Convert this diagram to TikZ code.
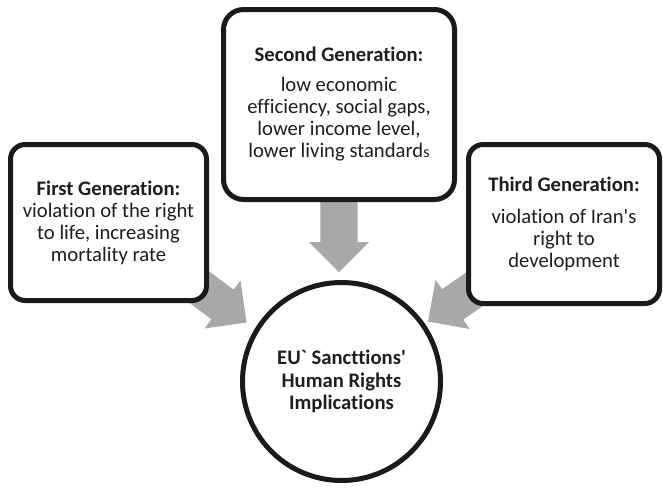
\documentclass[tikz,border=0pt]{standalone}
\usepackage{fontspec}
\setmainfont{Carlito}
\newfontfamily\genfont{Carlito}[Ligatures=NoCommon]
\usetikzlibrary{calc,backgrounds}

\definecolor{boxline}{RGB}{26,26,26}
\definecolor{arrowgray}{RGB}{168,168,168}
\definecolor{txtgray}{RGB}{30,30,30}

\tikzset{every picture/.style={line width=0.75pt}}
\tikzset{
  genbox/.style={draw=boxline, fill=white, line width=3.75pt, rounded corners=11pt, align=center, text=txtgray, inner sep=0pt, font=\genfont\fontsize{15.5}{16.5}\selectfont},
  hubcircle/.style={circle, draw=boxline, fill=white, line width=3.75pt, minimum size=148.5pt, align=center, text=txtgray, inner sep=0pt, font=\genfont\bfseries\fontsize{15.5}{17}\selectfont},
}

% fat grey arrow from #1 (tail) to #2 (tip)
\newcommand{\blockarrow}[2]{%
  \coordinate (bh) at ($(#2)!22.5pt!(#1)$);
  \fill[arrowgray] ($(#1)!13.9pt!90:(#2)$) -- ($(bh)!13.9pt!90:(#2)$) -- ($(bh)!22.5pt!90:(#2)$) -- (#2) -- ($(bh)!22.5pt!-90:(#2)$) -- ($(bh)!13.9pt!-90:(#2)$) -- ($(#1)!13.9pt!-90:(#2)$) -- cycle ;}

\begin{document}
\begin{tikzpicture}[x=0.75pt,y=0.75pt,yscale=-1,xscale=1]
\useasboundingbox (0,0) rectangle (663,490);

%Shape: Rounded Rect [id:second]
\node [genbox, rounded corners=15pt, minimum width=173.25pt, minimum height=142.5pt] (second) at (339,104.5) {\textbf{Second Generation:}\\[6pt]
low economic\\
efficiency, social gaps,\\
lower income level,\\
lower living standard{\fontsize{12}{16.5}\selectfont s}};
%Shape: Rounded Rect [id:first]
\node [genbox, minimum width=147pt, minimum height=117pt] (first) at (108.5,222.5) {\textbf{First Generation:}\\
violation of the right\\
to life, increasing\\
mortality rate};
%Shape: Rounded Rect [id:third]
\node [genbox, minimum width=143.25pt, minimum height=119.25pt] (third) at (564,224) {\textbf{Third Generation:}\\[8pt]
violation of Iran's\\
right to\\
development};
%Shape: Circle [id:hub]
\node [hubcircle] (hub) at (341.5,381.5) {EU` Sancttions'\\
Human Rights\\
Implications};

%Arrow ends
\coordinate (tailS) at (second.south) ;
\coordinate (tipS) at (339,272) ;
\coordinate (tailF) at (186.5,277.5) ;
\coordinate (tipF) at (246.5,322.5) ;
\coordinate (tailT) at (489.4,278.9) ;
\coordinate (tipT) at (428,321.5) ;

\begin{scope}[on background layer]
%Shape: Block Arrows
\blockarrow{tailS}{tipS}
\blockarrow{tailF}{tipF}
\blockarrow{tailT}{tipT}
\end{scope}

\end{tikzpicture}
\end{document}
